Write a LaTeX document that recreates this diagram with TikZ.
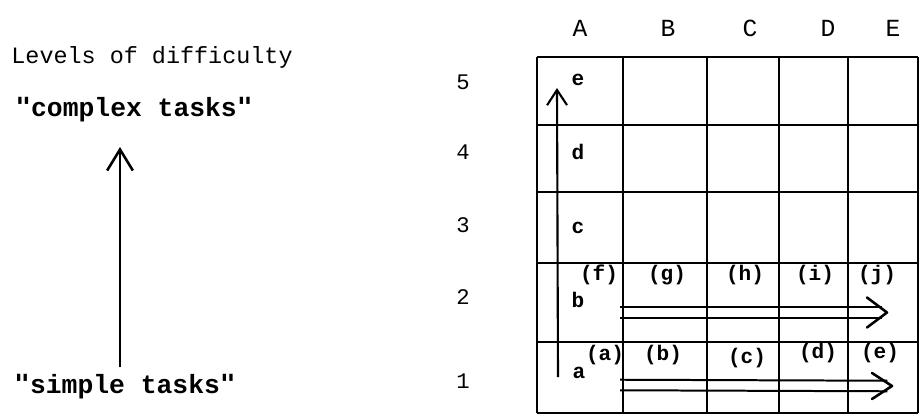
\documentclass[tikz,border=0pt]{standalone}
\usepackage{fontspec}
\setmainfont{Liberation Mono}
\newfontfamily\quotefont{DejaVu Sans Mono}
\usetikzlibrary{arrows.meta,positioning}

\newcommand{\dq}{{\quotefont\symbol{34}}}

\begin{document}
\begin{tikzpicture}[x=0.03cm, y=-0.03cm,
    title/.style={font=\fontsize{20}{24}\selectfont, inner sep=0pt},
    task/.style={font=\bfseries\fontsize{22.5}{26}\selectfont, inner sep=0pt},
    colhead/.style={font=\fontsize{21}{24}\selectfont, inner sep=0pt},
    rowhead/.style={font=\fontsize{19}{22}\selectfont, inner sep=0pt},
    cellmark/.style={font=\bfseries\fontsize{18}{20}\selectfont, inner sep=0pt},
    gridline/.style={line width=1.9pt},
    bigup/.style={line width=2.2pt, -{Straight Barb[length=18pt, width=22pt]}},
    smallup/.style={line width=1.8pt, -{Straight Barb[length=13pt, width=17pt]}},
    railline/.style={line width=1.7pt},
    railhead/.style={line width=2.2pt, line cap=round, line join=round}]

\useasboundingbox (0,0) rectangle (920,417);

% Difficulty scale (left)
\node[title] (levels) at (152,57) {Levels of difficulty};
\node[task] (complex) at (134,110) {\dq complex tasks\dq};
\node[task] (simple) at (125,387) {\dq simple tasks\dq};
\coordinate (scale low) at (120,367);
\coordinate (scale high) at (120,147);
\draw[bigup] (scale low) -- (scale high);

% Grid
\foreach \yy in {57,125,192,263,342,413}
    \draw[gridline] (537,\yy) -- (918,\yy);
\foreach \xx in {537,623,707,779,848,918}
    \draw[gridline] (\xx,57) -- (\xx,413);

% Column and row headings
\foreach \c/\xx in {A/580,B/668,C/750,D/828,E/893}
    \node[colhead] (col\c) at (\xx,28) {\c};
\foreach \n/\yy in {5/82,4/152,3/225,2/297,1/381}
    \node[rowhead] (row\n) at (463,\yy) {\n};

% Levels in column A
\node[cellmark] (lev-e) at (578,80) {e};
\node[cellmark] (lev-d) at (578,152) {d};
\node[cellmark] (lev-c) at (578,228) {c};
\node[cellmark] (lev-b) at (578,300) {b};
\node[cellmark] (lev-a) at (579,373) {a};

% Tasks in row b
\node[cellmark] (task-f) at (599,275) {(f)};
\node[cellmark] (task-g) at (667,275) {(g)};
\node[cellmark] (task-h) at (745,275) {(h)};
\node[cellmark] (task-i) at (815,275) {(i)};
\node[cellmark] (task-j) at (877,275) {(j)};

% Tasks in row a
\node[cellmark] (task-a) at (605,355) {(a)};
\node[cellmark] (task-b) at (663,355) {(b)};
\node[cellmark] (task-c) at (747,358) {(c)};
\node[cellmark] (task-d) at (818,353) {(d)};
\node[cellmark] (task-e) at (880,353) {(e)};

% Path up through column A
\coordinate (up start) at (558,377);
\coordinate (up end) at (557,88);
\draw[smallup] (up start) -- (up end);

% Double arrows along rows b and a
\coordinate (b start) at (620,312.5);
\coordinate (b end) at (887,312.5);
\draw[railline] ([yshift=4.5]b start) -- ([yshift=4.5,xshift=-4]b end);
\draw[railline] ([yshift=-4.5]b start) -- ([yshift=-4.5,xshift=-4]b end);
\draw[railhead] ([shift={(-20,-15)}]b end) -- (b end) -- ([shift={(-20,15)}]b end);
\coordinate (a start) at (620,385);
\coordinate (a end) at (892,386);
\draw[railline] ([yshift=4.5]a start) -- ([yshift=4.5,xshift=-4]a end);
\draw[railline] ([yshift=-4.5]a start) -- ([yshift=-4.5,xshift=-4]a end);
\draw[railhead] ([shift={(-20,-13)}]a end) -- (a end) -- ([shift={(-20,13)}]a end);

\end{tikzpicture}
\end{document}
